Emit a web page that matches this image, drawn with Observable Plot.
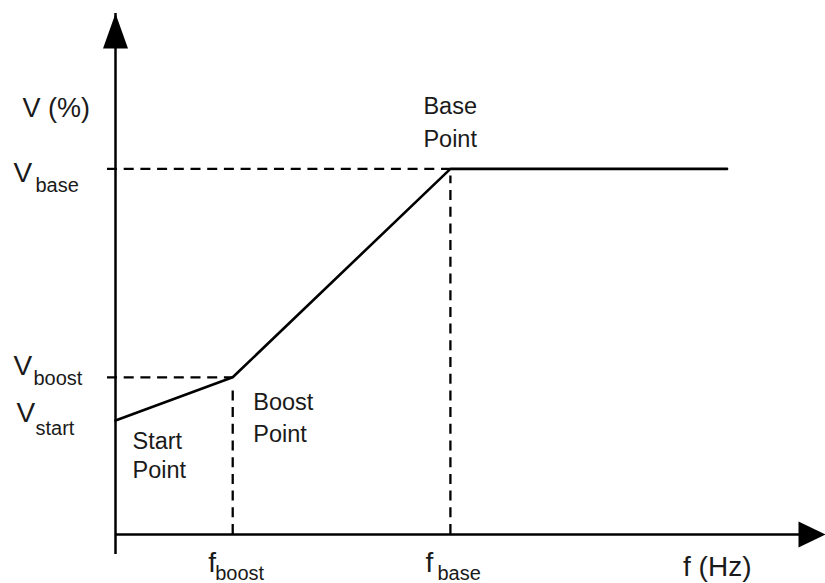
<!DOCTYPE html>
<html><head><meta charset="utf-8">
<script src="https://cdn.jsdelivr.net/npm/d3@7"></script>
<script src="https://cdn.jsdelivr.net/npm/@observablehq/plot@0.6"></script>
<style>body{margin:0;background:#fff}</style>
</head><body><div id="chart"></div>
<script>
// V/f curve: start point, boost point, base point, end of flat segment
const pointNames = ["start", "boost", "base", "end"];
const freqHz = [0, 17.5, 50, 91.3];
const voltPct = [31.2, 43, 100, 100];
// axis extents (arrow tips)
const fAxisMax = 106;
const vAxisMax = 142.5;
// labels
const axisLabelV = "V (%)";
const axisLabelF = "f (Hz)";
const pointLabels = ["Start\nPoint", "Boost\nPoint", "Base\nPoint"];

const curve = freqHz.map((f, i) => ({name: pointNames[i], f, v: voltPct[i]}));
const [fStart, fBoost, fBase, fEnd] = freqHz;
const [vStart, vBoost, vBase] = voltPct;

const FONT = "Liberation Sans, Arial, Helvetica, sans-serif";
const INK = "#1a1a1a";
const DASH = "10,6.7";

const arrowUp = {draw(ctx) { ctx.moveTo(0, 0); ctx.lineTo(12.5, 35); ctx.lineTo(-12.5, 35); ctx.closePath(); }};
const arrowRight = {draw(ctx) { ctx.moveTo(0, 0); ctx.lineTo(-27, 13); ctx.lineTo(-27, -13); ctx.closePath(); }};

function label(datum, text, opts) {
  return Plot.text([datum], {x: "f", y: "v", text: () => text, textAnchor: "start", lineAnchor: "bottom",
    fill: INK, fontFamily: FONT, ...opts});
}

const dashed = {stroke: "#000", strokeWidth: 2.3, strokeDasharray: DASH};

const chart = Plot.plot({
  width: 825, height: 583,
  marginLeft: 115, marginRight: 0, marginTop: 13, marginBottom: 49,
  x: {axis: null, domain: [0, fAxisMax]},
  y: {axis: null, domain: [0, vAxisMax]},
  style: {background: "#fff", overflow: "visible", fontFamily: FONT},
  marks: [
    // dashed guides
    Plot.ruleY([vBase], {x1: 0, x2: fBase, insetLeft: -8, ...dashed}),
    Plot.ruleY([vBoost], {x1: 0, x2: fBoost, insetLeft: -8, ...dashed}),
    Plot.ruleX([fBoost], {y1: 0, y2: vBoost, insetBottom: -7, ...dashed}),
    Plot.ruleX([fBase], {y1: 0, y2: vBase, insetBottom: -7, ...dashed}),
    // axes
    Plot.ruleX([0], {y1: 0, y2: vAxisMax, insetTop: 20, stroke: "#000", strokeWidth: 2.5}),
    Plot.ruleY([0], {x1: 0, x2: fAxisMax, insetRight: 20, stroke: "#000", strokeWidth: 2.5}),
    Plot.dot([{f: 0, v: vAxisMax}], {x: "f", y: "v", symbol: arrowUp, fill: "#000", stroke: "none", r: 10}),
    Plot.dot([{f: fAxisMax, v: 0}], {x: "f", y: "v", symbol: arrowRight, fill: "#000", stroke: "none", r: 10}),
    // curve
    Plot.line(curve, {x: "f", y: "v", stroke: "#000", strokeWidth: 2.6}),
    // axis titles
    label({f: 0, v: vBase}, axisLabelV, {dx: -93, dy: -51.5, fontSize: 27}),
    label({f: fEnd, v: 0}, axisLabelF, {dx: -44, dy: 41, fontSize: 28}),
    // V tick labels
    label({f: 0, v: vBase}, "V", {dx: -102, dy: 13.5, fontSize: 28}),
    label({f: 0, v: vBase}, "base", {dx: -80, dy: 23.5, fontSize: 20}),
    label({f: 0, v: vBoost}, "V", {dx: -102, dy: -2, fontSize: 28}),
    label({f: 0, v: vBoost}, "boost", {dx: -82, dy: 8, fontSize: 20}),
    label({f: 0, v: vStart}, "V", {dx: -99, dy: 2, fontSize: 28}),
    label({f: 0, v: vStart}, "start", {dx: -80, dy: 15, fontSize: 20}),
    // f tick labels
    label({f: fBoost, v: 0}, "f", {dx: -24.5, dy: 37, fontSize: 28}),
    label({f: fBoost, v: 0}, "boost", {dx: -17.5, dy: 45, fontSize: 20}),
    label({f: fBase, v: 0}, "f", {dx: -25, dy: 37, fontSize: 28}),
    label({f: fBase, v: 0}, "base", {dx: -13, dy: 45, fontSize: 20}),
    // point annotations
    label({f: fStart, v: vStart}, pointLabels[0], {dx: 17, dy: 58, fontSize: 23.5, lineHeight: 29 / 23.5}),
    label({f: fBoost, v: vBoost}, pointLabels[1], {dx: 20.5, dy: 65, fontSize: 23.5, lineHeight: 32 / 23.5}),
    label({f: fBase, v: vBase}, pointLabels[2], {dx: -27, dy: -21.5, fontSize: 23.5, lineHeight: 33 / 23.5})
  ]
});
document.getElementById("chart").append(chart);
</script>
</body></html>
